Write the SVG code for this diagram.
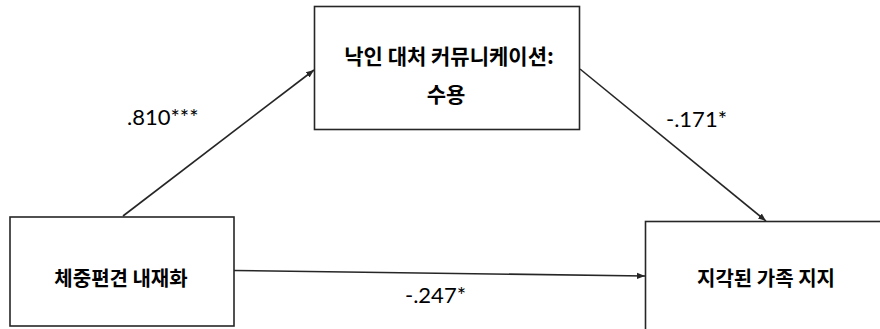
<svg xmlns="http://www.w3.org/2000/svg" width="880" height="329" viewBox="0 0 880 329">
<defs>
<style>
.box{fill:#fff;stroke:#262626;stroke-width:1.6}
.kr{font-family:"Noto Sans CJK KR","Noto Sans",sans-serif;font-weight:bold;font-size:20px;fill:#000;text-anchor:middle}
.big{font-size:21px}
.num{font-family:Lato,"Liberation Sans",sans-serif;font-size:22px;fill:#000}
.ln{stroke:#262626;stroke-width:1.6;fill:none;marker-end:url(#ah)}
</style>
<marker id="ah" viewBox="0 0 10 10" refX="10" refY="5" markerWidth="8" markerHeight="8" markerUnits="userSpaceOnUse" orient="auto">
<path d="M0,1 L10,5 L0,9 z" fill="#262626"/>
</marker>
</defs>
<rect width="880" height="329" fill="#fff"/>
<g id="connectors">
<line class="ln" x1="123" y1="216" x2="314" y2="70"/>
<line class="ln" x1="580" y1="69" x2="766" y2="221"/>
<line class="ln" x1="234" y1="270.5" x2="645" y2="276"/>
</g>
<g id="node-top">
<rect class="box" x="314.5" y="6.5" width="265" height="123"/>
<text class="kr big" x="449" y="64">낙인 대처 커뮤니케이션:</text>
<text class="kr big" x="446" y="102">수용</text>
</g>
<g id="node-left">
<rect class="box" x="10" y="217" width="224" height="109"/>
<text class="kr" x="121" y="286">체중편견 내재화</text>
</g>
<g id="node-right">
<rect class="box" x="645.5" y="221.5" width="250" height="120"/>
<text class="kr" x="766" y="286">지각된 가족 지지</text>
</g>
<g id="labels">
<text class="num" x="127" y="125">.810***</text>
<text class="num" x="666" y="127">-.171*</text>
<text class="num" x="405" y="303">-.247*</text>
</g>
</svg>
